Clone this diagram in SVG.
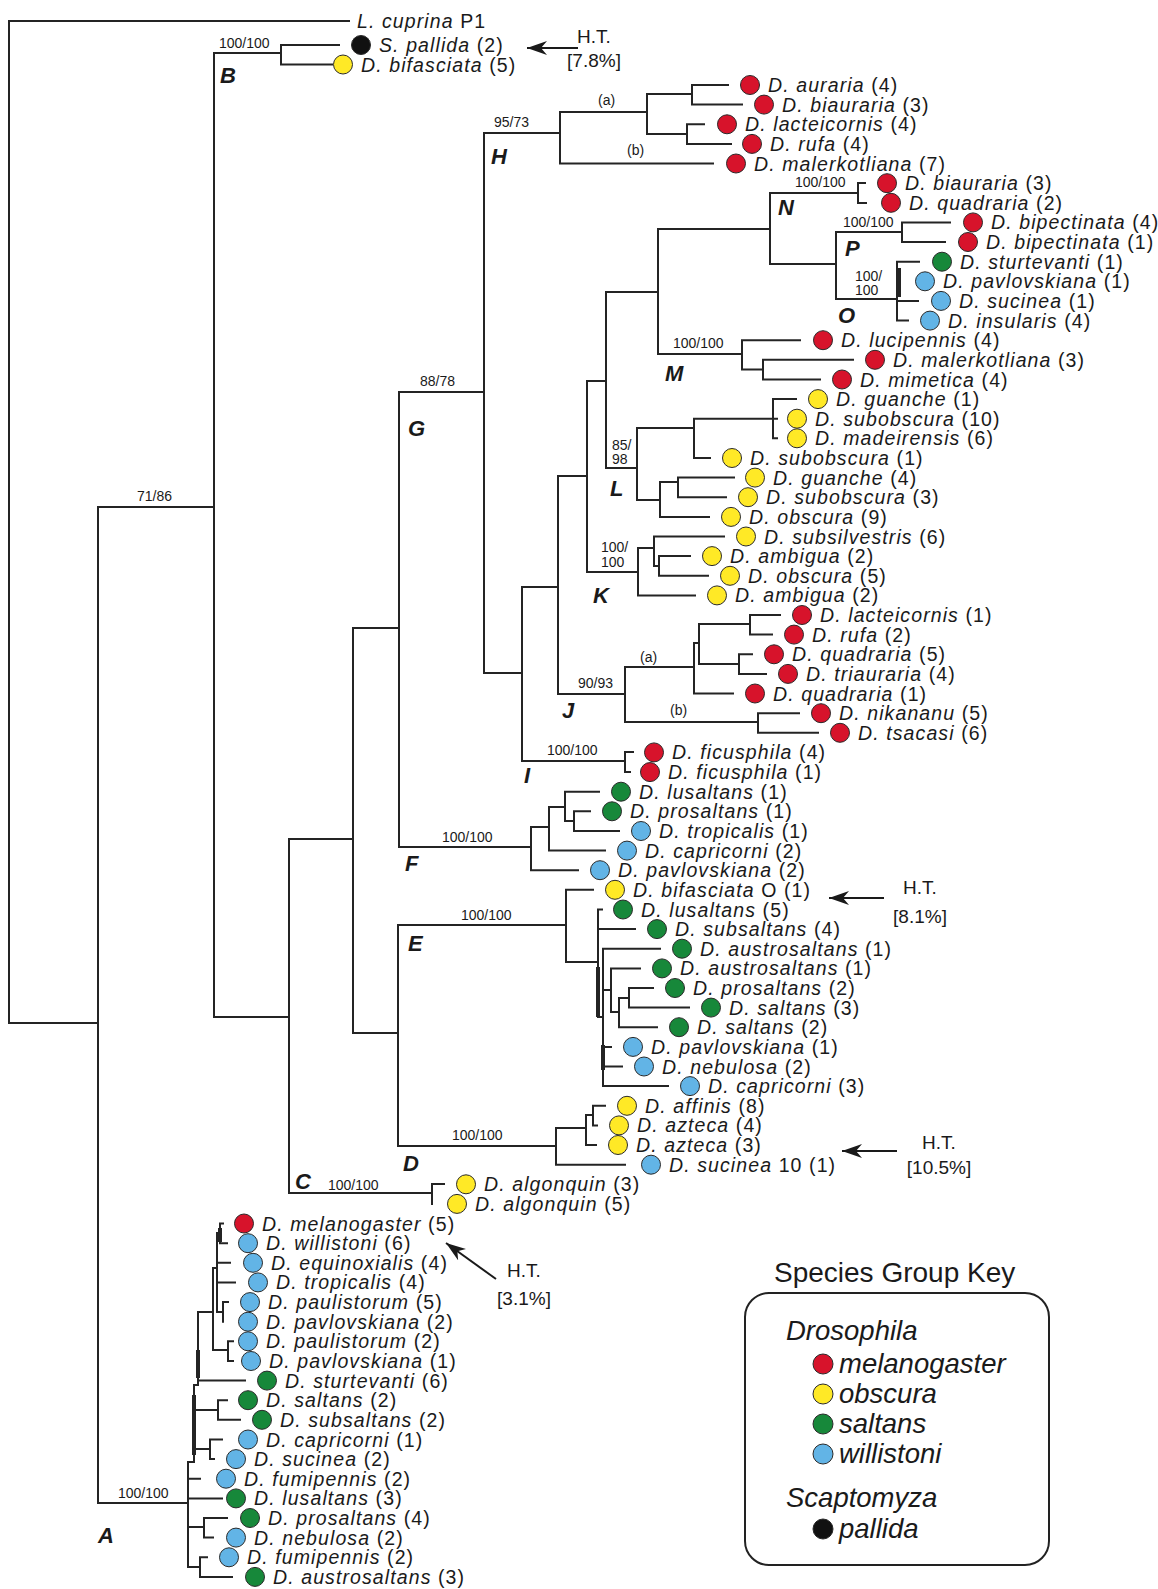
<svg xmlns="http://www.w3.org/2000/svg" width="1158" height="1589" viewBox="0 0 1158 1589">
<style>
.ln{fill:none;stroke:#242424;stroke-width:2;stroke-linecap:square}
.th{fill:none;stroke:#242424;stroke-width:4}
.ar{fill:none;stroke:#1a1a1a;stroke-width:2}
text{font-family:"Liberation Sans",Arial,Helvetica,sans-serif;fill:#1a1a1a}
.sp{font-size:19.5px;letter-spacing:1.1px}
.i{font-style:italic}
.bs{font-size:14px}
.cl{font-size:22px;font-weight:bold;font-style:italic}
.ht{font-size:19px;text-anchor:middle}
.lg{font-size:27.5px;font-style:italic}
circle{stroke:#2a2a2a;stroke-width:1}
.r{fill:#d7132b}.y{fill:#ffe926}.g{fill:#17883a}.b{fill:#62b4e6}.k{fill:#111}
</style>
<defs>
<marker id="ah" viewBox="0 0 20 14" refX="20" refY="7" markerWidth="20" markerHeight="14" markerUnits="userSpaceOnUse" orient="auto">
<path d="M0,0 L20,7 L0,14 L6,7 Z" fill="#1a1a1a"/>
</marker>
</defs>
<rect width="1158" height="1589" fill="#fff"/>
<g id="connectors">
<path class="ln" d="M9 21V1023M9 21H349M9 1023H98M98 507V1503M98 507H214M98 1503H188
M214 53V1017M214 53H281M281 45V64.5M281 45H339M281 64.5H332
M214 1017H289M289 839V1193M289 839H353M289 1193H432M432 1184V1204M432 1184H444
M353 628V1033M353 628H399M353 1033H398M398 925V1146M398 925H566M398 1146H556
M399 392V847M399 392H484M399 847H531M484 133V673M484 133H560M484 673H522
M522 587V761M522 761H625M625 752V772M625 752H633M625 772H630M522 587H558
M558 476V694M558 694H625M558 476H587M587 381V572M587 572H638M587 381H606
M606 292V468M606 468H637M606 292H658M658 229V354M658 229H770M658 354H742
M560 112V163.5M560 112H647M560 163.5H713M647 94V134M647 94H692M647 134H687
M692 85V104.6M692 85H728M692 104.6H742M687 124.3V143.9M687 124.3H704M687 143.9H731
M770 193V264M770 193H858M858 183V203M858 183H865M858 203H866M770 264H836
M836 232V299M836 232H902M902 222.4V242M902 222.4H950M902 242H945M836 299H897
M897 261.7V320.6M897 261.7H919M897 300.9H918M897 320.6H908
M742 340.2V369.6M742 340.2H800M742 369.6H763M763 359.8V379.5M763 359.8H853M763 379.5H820
M637 428V500M637 428H694M694 418.7V458M694 418.7H773M773 399.1V438.3M773 399.1H796M773 418.7H777M773 438.3H777M694 458H710
M637 500H660M660 482V516.9M660 482H678M678 477.6V497.2M678 477.6H734M678 497.2H726M660 516.9H709
M638 548V595.4M638 548H654M654 536.5V566M654 536.5H724M654 566H659M659 556.1V575.8M659 556.1H690M659 575.8H708M638 595.4H695
M625 667V722M625 667H694M694 643V693.5M694 643H699M699 624V664M699 624H750M750 615V634.6M750 615H780M750 634.6H772
M699 664H739M739 654.3V673.9M739 654.3H752M739 673.9H766M694 693.5H733M625 722H758M758 713.2V732.8M758 713.2H799M758 732.8H818
M531 827V870.2M531 827H549M549 807V850.6M549 850.6H605M549 807H565M565 791.7V821M565 791.7H599M565 821H574M574 811.3V831M574 811.3H590M574 831H619M531 870.2H578
M566 889.8V962M566 889.8H593M566 962H598M598 909.5V1017M598 909.5H602M598 929.1H635M598 1017H603M603 948.7V1086.1M603 948.7H660
M603 990H611M611 968.4V1012M611 968.4H640M611 1012H619M619 998V1027.2M619 998H629M629 988V1007.6M629 988H653M629 1007.6H689M619 1027.2H657
M603 1046.9H611M603 1066.5H622M603 1086.1H668
M556 1128V1164.7M556 1128H586M586 1115V1145M586 1115H593M593 1105.8V1125.4M593 1105.8H605M593 1125.4H597M586 1145H596M556 1164.7H625
M188 1462V1567M188 1462H194M194 1385V1462M194 1385H198M198 1312V1385M198 1312H213M213 1268V1350M213 1268H217M217 1233V1312M217 1233H220
M220 1223.5V1243.2M220 1223.5H223M220 1243.2H227M217 1262.8H230M217 1282.4H235M217 1312H223M223 1302.1V1321.7M223 1302.1H228
M213 1350H228M228 1341.3V1361M228 1341.3H233M228 1361H233M198 1380.6H245
M194 1410H218M218 1400.2V1419.8M218 1400.2H227M218 1419.8H240M194 1449H210M210 1439.5V1459.1M210 1439.5H222M210 1459.1H214
M188 1478.7H200M188 1498.4H222M188 1527H204M204 1518V1537.6M204 1518H227M204 1537.6H213M188 1567H200M200 1557.3V1576.9M200 1557.3H207M200 1576.9H232"/>
<path class="th" d="M899 268V297M598 967V1017M603 1045V1070M194 1395V1455M198 1350V1378M220 1228V1242"/>
<path class="ar" d="M578 48H527" marker-end="url(#ah)"/>
<path class="ar" d="M884 898H829" marker-end="url(#ah)"/>
<path class="ar" d="M897 1151H842" marker-end="url(#ah)"/>
<path class="ar" d="M496 1279L446 1243" marker-end="url(#ah)"/>
</g>
<g id="labels">
<text class="bs" x="219" y="48">100/100</text>
<text class="cl" x="220" y="83">B</text>
<text class="bs" x="137" y="501">71/86</text>
<text class="bs" x="494" y="127">95/73</text>
<text class="cl" x="491" y="164">H</text>
<text class="bs" x="598" y="105">(a)</text>
<text class="bs" x="627" y="155">(b)</text>
<text class="bs" x="795" y="187">100/100</text>
<text class="cl" x="778" y="215">N</text>
<text class="bs" x="843" y="227">100/100</text>
<text class="cl" x="845" y="256">P</text>
<text class="bs" x="855" y="281">100/</text>
<text class="bs" x="855" y="295">100</text>
<text class="cl" x="838" y="323">O</text>
<text class="bs" x="673" y="348">100/100</text>
<text class="cl" x="665" y="381">M</text>
<text class="bs" x="420" y="386">88/78</text>
<text class="cl" x="408" y="436">G</text>
<text class="bs" x="612" y="450">85/</text>
<text class="bs" x="612" y="464">98</text>
<text class="cl" x="610" y="496">L</text>
<text class="bs" x="601" y="552">100/</text>
<text class="bs" x="601" y="567">100</text>
<text class="cl" x="593" y="603">K</text>
<text class="bs" x="578" y="688">90/93</text>
<text class="cl" x="562" y="718">J</text>
<text class="bs" x="640" y="662">(a)</text>
<text class="bs" x="670" y="715">(b)</text>
<text class="bs" x="547" y="755">100/100</text>
<text class="cl" x="524" y="783">I</text>
<text class="bs" x="442" y="842">100/100</text>
<text class="cl" x="405" y="871">F</text>
<text class="bs" x="461" y="920">100/100</text>
<text class="cl" x="408" y="951">E</text>
<text class="bs" x="452" y="1140">100/100</text>
<text class="cl" x="403" y="1171">D</text>
<text class="cl" x="295" y="1189">C</text>
<text class="bs" x="328" y="1190">100/100</text>
<text class="bs" x="118" y="1498">100/100</text>
<text class="cl" x="98" y="1543">A</text>
<text class="ht" x="594" y="43">H.T.</text>
<text class="ht" x="594" y="67">[7.8%]</text>
<text class="ht" x="920" y="894">H.T.</text>
<text class="ht" x="920" y="923">[8.1%]</text>
<text class="ht" x="939" y="1149">H.T.</text>
<text class="ht" x="939" y="1174">[10.5%]</text>
<text class="ht" x="524" y="1277">H.T.</text>
<text class="ht" x="524" y="1305">[3.1%]</text>
</g>
<g id="outgroup"><text class="sp" x="357" y="28"><tspan class="i">L. cuprina</tspan> P1</text></g>
<g id="leaf-s-pallida"><circle class="k" cx="361" cy="45" r="9.5"/><text class="sp" x="379" y="51.5"><tspan class="i">S. pallida</tspan> (2)</text></g>
<g id="leaf-bifasciata-5"><circle class="y" cx="343" cy="64.5" r="9.5"/><text class="sp" x="361" y="71.5"><tspan class="i">D. bifasciata</tspan> (5)</text></g>
<g id="leaf-00"><circle class="r" cx="750" cy="85" r="9.5"/><text class="sp" x="768" y="92"><tspan class="i">D. auraria</tspan> (4)</text></g>
<g id="leaf-01"><circle class="r" cx="764" cy="104.6" r="9.5"/><text class="sp" x="782" y="111.6"><tspan class="i">D. biauraria</tspan> (3)</text></g>
<g id="leaf-02"><circle class="r" cx="727" cy="124.3" r="9.5"/><text class="sp" x="745" y="131.3"><tspan class="i">D. lacteicornis</tspan> (4)</text></g>
<g id="leaf-03"><circle class="r" cx="752" cy="143.9" r="9.5"/><text class="sp" x="770" y="150.9"><tspan class="i">D. rufa</tspan> (4)</text></g>
<g id="leaf-04"><circle class="r" cx="736" cy="163.5" r="9.5"/><text class="sp" x="754" y="170.5"><tspan class="i">D. malerkotliana</tspan> (7)</text></g>
<g id="leaf-05"><circle class="r" cx="887" cy="183.2" r="9.5"/><text class="sp" x="905" y="190.2"><tspan class="i">D. biauraria</tspan> (3)</text></g>
<g id="leaf-06"><circle class="r" cx="891" cy="202.8" r="9.5"/><text class="sp" x="909" y="209.8"><tspan class="i">D. quadraria</tspan> (2)</text></g>
<g id="leaf-07"><circle class="r" cx="973" cy="222.4" r="9.5"/><text class="sp" x="991" y="229.4"><tspan class="i">D. bipectinata</tspan> (4)</text></g>
<g id="leaf-08"><circle class="r" cx="968" cy="242" r="9.5"/><text class="sp" x="986" y="249"><tspan class="i">D. bipectinata</tspan> (1)</text></g>
<g id="leaf-09"><circle class="g" cx="942" cy="261.7" r="9.5"/><text class="sp" x="960" y="268.7"><tspan class="i">D. sturtevanti</tspan> (1)</text></g>
<g id="leaf-10"><circle class="b" cx="925" cy="281.3" r="9.5"/><text class="sp" x="943" y="288.3"><tspan class="i">D. pavlovskiana</tspan> (1)</text></g>
<g id="leaf-11"><circle class="b" cx="941" cy="300.9" r="9.5"/><text class="sp" x="959" y="307.9"><tspan class="i">D. sucinea</tspan> (1)</text></g>
<g id="leaf-12"><circle class="b" cx="930" cy="320.6" r="9.5"/><text class="sp" x="948" y="327.6"><tspan class="i">D. insularis</tspan> (4)</text></g>
<g id="leaf-13"><circle class="r" cx="823" cy="340.2" r="9.5"/><text class="sp" x="841" y="347.2"><tspan class="i">D. lucipennis</tspan> (4)</text></g>
<g id="leaf-14"><circle class="r" cx="875" cy="359.8" r="9.5"/><text class="sp" x="893" y="366.8"><tspan class="i">D. malerkotliana</tspan> (3)</text></g>
<g id="leaf-15"><circle class="r" cx="842" cy="379.5" r="9.5"/><text class="sp" x="860" y="386.5"><tspan class="i">D. mimetica</tspan> (4)</text></g>
<g id="leaf-16"><circle class="y" cx="818" cy="399.1" r="9.5"/><text class="sp" x="836" y="406.1"><tspan class="i">D. guanche</tspan> (1)</text></g>
<g id="leaf-17"><circle class="y" cx="797" cy="418.7" r="9.5"/><text class="sp" x="815" y="425.7"><tspan class="i">D. subobscura</tspan> (10)</text></g>
<g id="leaf-18"><circle class="y" cx="797" cy="438.3" r="9.5"/><text class="sp" x="815" y="445.3"><tspan class="i">D. madeirensis</tspan> (6)</text></g>
<g id="leaf-19"><circle class="y" cx="732" cy="458" r="9.5"/><text class="sp" x="750" y="465"><tspan class="i">D. subobscura</tspan> (1)</text></g>
<g id="leaf-20"><circle class="y" cx="755" cy="477.6" r="9.5"/><text class="sp" x="773" y="484.6"><tspan class="i">D. guanche</tspan> (4)</text></g>
<g id="leaf-21"><circle class="y" cx="748" cy="497.2" r="9.5"/><text class="sp" x="766" y="504.2"><tspan class="i">D. subobscura</tspan> (3)</text></g>
<g id="leaf-22"><circle class="y" cx="731" cy="516.9" r="9.5"/><text class="sp" x="749" y="523.9"><tspan class="i">D. obscura</tspan> (9)</text></g>
<g id="leaf-23"><circle class="y" cx="746" cy="536.5" r="9.5"/><text class="sp" x="764" y="543.5"><tspan class="i">D. subsilvestris</tspan> (6)</text></g>
<g id="leaf-24"><circle class="y" cx="712" cy="556.1" r="9.5"/><text class="sp" x="730" y="563.1"><tspan class="i">D. ambigua</tspan> (2)</text></g>
<g id="leaf-25"><circle class="y" cx="730" cy="575.8" r="9.5"/><text class="sp" x="748" y="582.8"><tspan class="i">D. obscura</tspan> (5)</text></g>
<g id="leaf-26"><circle class="y" cx="717" cy="595.4" r="9.5"/><text class="sp" x="735" y="602.4"><tspan class="i">D. ambigua</tspan> (2)</text></g>
<g id="leaf-27"><circle class="r" cx="802" cy="615" r="9.5"/><text class="sp" x="820" y="622"><tspan class="i">D. lacteicornis</tspan> (1)</text></g>
<g id="leaf-28"><circle class="r" cx="794" cy="634.6" r="9.5"/><text class="sp" x="812" y="641.6"><tspan class="i">D. rufa</tspan> (2)</text></g>
<g id="leaf-29"><circle class="r" cx="774" cy="654.3" r="9.5"/><text class="sp" x="792" y="661.3"><tspan class="i">D. quadraria</tspan> (5)</text></g>
<g id="leaf-30"><circle class="r" cx="788" cy="673.9" r="9.5"/><text class="sp" x="806" y="680.9"><tspan class="i">D. triauraria</tspan> (4)</text></g>
<g id="leaf-31"><circle class="r" cx="755" cy="693.5" r="9.5"/><text class="sp" x="773" y="700.5"><tspan class="i">D. quadraria</tspan> (1)</text></g>
<g id="leaf-32"><circle class="r" cx="821" cy="713.2" r="9.5"/><text class="sp" x="839" y="720.2"><tspan class="i">D. nikananu</tspan> (5)</text></g>
<g id="leaf-33"><circle class="r" cx="840" cy="732.8" r="9.5"/><text class="sp" x="858" y="739.8"><tspan class="i">D. tsacasi</tspan> (6)</text></g>
<g id="leaf-34"><circle class="r" cx="654" cy="752.4" r="9.5"/><text class="sp" x="672" y="759.4"><tspan class="i">D. ficusphila</tspan> (4)</text></g>
<g id="leaf-35"><circle class="r" cx="650" cy="772.1" r="9.5"/><text class="sp" x="668" y="779.1"><tspan class="i">D. ficusphila</tspan> (1)</text></g>
<g id="leaf-36"><circle class="g" cx="621" cy="791.7" r="9.5"/><text class="sp" x="639" y="798.7"><tspan class="i">D. lusaltans</tspan> (1)</text></g>
<g id="leaf-37"><circle class="g" cx="612" cy="811.3" r="9.5"/><text class="sp" x="630" y="818.3"><tspan class="i">D. prosaltans</tspan> (1)</text></g>
<g id="leaf-38"><circle class="b" cx="641" cy="831" r="9.5"/><text class="sp" x="659" y="838"><tspan class="i">D. tropicalis</tspan> (1)</text></g>
<g id="leaf-39"><circle class="b" cx="627" cy="850.6" r="9.5"/><text class="sp" x="645" y="857.6"><tspan class="i">D. capricorni</tspan> (2)</text></g>
<g id="leaf-40"><circle class="b" cx="600" cy="870.2" r="9.5"/><text class="sp" x="618" y="877.2"><tspan class="i">D. pavlovskiana</tspan> (2)</text></g>
<g id="leaf-41"><circle class="y" cx="615" cy="889.8" r="9.5"/><text class="sp" x="633" y="896.8"><tspan class="i">D. bifasciata</tspan> O (1)</text></g>
<g id="leaf-42"><circle class="g" cx="623" cy="909.5" r="9.5"/><text class="sp" x="641" y="916.5"><tspan class="i">D. lusaltans</tspan> (5)</text></g>
<g id="leaf-43"><circle class="g" cx="657" cy="929.1" r="9.5"/><text class="sp" x="675" y="936.1"><tspan class="i">D. subsaltans</tspan> (4)</text></g>
<g id="leaf-44"><circle class="g" cx="682" cy="948.7" r="9.5"/><text class="sp" x="700" y="955.7"><tspan class="i">D. austrosaltans</tspan> (1)</text></g>
<g id="leaf-45"><circle class="g" cx="662" cy="968.4" r="9.5"/><text class="sp" x="680" y="975.4"><tspan class="i">D. austrosaltans</tspan> (1)</text></g>
<g id="leaf-46"><circle class="g" cx="675" cy="988" r="9.5"/><text class="sp" x="693" y="995"><tspan class="i">D. prosaltans</tspan> (2)</text></g>
<g id="leaf-47"><circle class="g" cx="711" cy="1007.6" r="9.5"/><text class="sp" x="729" y="1014.6"><tspan class="i">D. saltans</tspan> (3)</text></g>
<g id="leaf-48"><circle class="g" cx="679" cy="1027.2" r="9.5"/><text class="sp" x="697" y="1034.2"><tspan class="i">D. saltans</tspan> (2)</text></g>
<g id="leaf-49"><circle class="b" cx="633" cy="1046.9" r="9.5"/><text class="sp" x="651" y="1053.9"><tspan class="i">D. pavlovskiana</tspan> (1)</text></g>
<g id="leaf-50"><circle class="b" cx="644" cy="1066.5" r="9.5"/><text class="sp" x="662" y="1073.5"><tspan class="i">D. nebulosa</tspan> (2)</text></g>
<g id="leaf-51"><circle class="b" cx="690" cy="1086.1" r="9.5"/><text class="sp" x="708" y="1093.1"><tspan class="i">D. capricorni</tspan> (3)</text></g>
<g id="leaf-52"><circle class="y" cx="627" cy="1105.8" r="9.5"/><text class="sp" x="645" y="1112.8"><tspan class="i">D. affinis</tspan> (8)</text></g>
<g id="leaf-53"><circle class="y" cx="619" cy="1125.4" r="9.5"/><text class="sp" x="637" y="1132.4"><tspan class="i">D. azteca</tspan> (4)</text></g>
<g id="leaf-54"><circle class="y" cx="618" cy="1145" r="9.5"/><text class="sp" x="636" y="1152"><tspan class="i">D. azteca</tspan> (3)</text></g>
<g id="leaf-55"><circle class="b" cx="651" cy="1164.7" r="9.5"/><text class="sp" x="669" y="1171.7"><tspan class="i">D. sucinea</tspan> 10 (1)</text></g>
<g id="leaf-56"><circle class="y" cx="466" cy="1184.3" r="9.5"/><text class="sp" x="484" y="1191.3"><tspan class="i">D. algonquin</tspan> (3)</text></g>
<g id="leaf-57"><circle class="y" cx="457" cy="1203.9" r="9.5"/><text class="sp" x="475" y="1210.9"><tspan class="i">D. algonquin</tspan> (5)</text></g>
<g id="leaf-58"><circle class="r" cx="244" cy="1223.5" r="9.5"/><text class="sp" x="262" y="1230.5"><tspan class="i">D. melanogaster</tspan> (5)</text></g>
<g id="leaf-59"><circle class="b" cx="248" cy="1243.2" r="9.5"/><text class="sp" x="266" y="1250.2"><tspan class="i">D. willistoni</tspan> (6)</text></g>
<g id="leaf-60"><circle class="b" cx="253" cy="1262.8" r="9.5"/><text class="sp" x="271" y="1269.8"><tspan class="i">D. equinoxialis</tspan> (4)</text></g>
<g id="leaf-61"><circle class="b" cx="258" cy="1282.4" r="9.5"/><text class="sp" x="276" y="1289.4"><tspan class="i">D. tropicalis</tspan> (4)</text></g>
<g id="leaf-62"><circle class="b" cx="250" cy="1302.1" r="9.5"/><text class="sp" x="268" y="1309.1"><tspan class="i">D. paulistorum</tspan> (5)</text></g>
<g id="leaf-63"><circle class="b" cx="248" cy="1321.7" r="9.5"/><text class="sp" x="266" y="1328.7"><tspan class="i">D. pavlovskiana</tspan> (2)</text></g>
<g id="leaf-64"><circle class="b" cx="248" cy="1341.3" r="9.5"/><text class="sp" x="266" y="1348.3"><tspan class="i">D. paulistorum</tspan> (2)</text></g>
<g id="leaf-65"><circle class="b" cx="251" cy="1361" r="9.5"/><text class="sp" x="269" y="1368"><tspan class="i">D. pavlovskiana</tspan> (1)</text></g>
<g id="leaf-66"><circle class="g" cx="267" cy="1380.6" r="9.5"/><text class="sp" x="285" y="1387.6"><tspan class="i">D. sturtevanti</tspan> (6)</text></g>
<g id="leaf-67"><circle class="g" cx="248" cy="1400.2" r="9.5"/><text class="sp" x="266" y="1407.2"><tspan class="i">D. saltans</tspan> (2)</text></g>
<g id="leaf-68"><circle class="g" cx="262" cy="1419.8" r="9.5"/><text class="sp" x="280" y="1426.8"><tspan class="i">D. subsaltans</tspan> (2)</text></g>
<g id="leaf-69"><circle class="b" cx="248" cy="1439.5" r="9.5"/><text class="sp" x="266" y="1446.5"><tspan class="i">D. capricorni</tspan> (1)</text></g>
<g id="leaf-70"><circle class="b" cx="236" cy="1459.1" r="9.5"/><text class="sp" x="254" y="1466.1"><tspan class="i">D. sucinea</tspan> (2)</text></g>
<g id="leaf-71"><circle class="b" cx="226" cy="1478.7" r="9.5"/><text class="sp" x="244" y="1485.7"><tspan class="i">D. fumipennis</tspan> (2)</text></g>
<g id="leaf-72"><circle class="g" cx="236" cy="1498.4" r="9.5"/><text class="sp" x="254" y="1505.4"><tspan class="i">D. lusaltans</tspan> (3)</text></g>
<g id="leaf-73"><circle class="g" cx="250" cy="1518" r="9.5"/><text class="sp" x="268" y="1525"><tspan class="i">D. prosaltans</tspan> (4)</text></g>
<g id="leaf-74"><circle class="b" cx="236" cy="1537.6" r="9.5"/><text class="sp" x="254" y="1544.6"><tspan class="i">D. nebulosa</tspan> (2)</text></g>
<g id="leaf-75"><circle class="b" cx="229" cy="1557.3" r="9.5"/><text class="sp" x="247" y="1564.3"><tspan class="i">D. fumipennis</tspan> (2)</text></g>
<g id="leaf-76"><circle class="g" cx="255" cy="1576.9" r="9.5"/><text class="sp" x="273" y="1583.9"><tspan class="i">D. austrosaltans</tspan> (3)</text></g>
<g id="key">
<text x="774" y="1282" style="font-size:28px">Species Group Key</text>
<rect x="745" y="1293" width="304" height="272" rx="24" fill="none" stroke="#222" stroke-width="2"/>
<text class="lg" x="786" y="1340">Drosophila</text>
<circle class="r" cx="823" cy="1364" r="10"/><text class="lg" x="839" y="1373">melanogaster</text>
<circle class="y" cx="823" cy="1394" r="10"/><text class="lg" x="839" y="1403">obscura</text>
<circle class="g" cx="823" cy="1424" r="10"/><text class="lg" x="839" y="1433">saltans</text>
<circle class="b" cx="823" cy="1454" r="10"/><text class="lg" x="839" y="1463">willistoni</text>
<text class="lg" x="786" y="1507">Scaptomyza</text>
<circle class="k" cx="823" cy="1529" r="10"/><text class="lg" x="839" y="1538">pallida</text>
</g>
</svg>
